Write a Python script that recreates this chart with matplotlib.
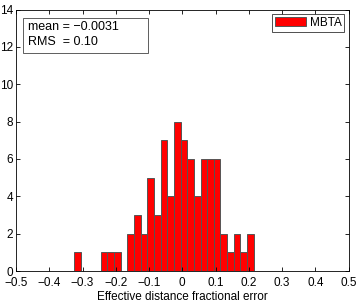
import numpy as np
import matplotlib
matplotlib.use('Agg')
import matplotlib.pyplot as plt
from matplotlib.patches import Rectangle

plt.rcParams['font.family'] = ['Liberation Sans', 'DejaVu Sans']

# histogram counts, bins of width 0.02
bin_start = -0.325
bin_width = 0.02
counts = [1, 0, 0, 0, 1, 1, 1, 0, 2, 3, 2, 5, 3, 7, 4, 8, 7, 6, 4,
          6, 6, 6, 2, 1, 2, 1, 2]
xticks = [-0.5, -0.4, -0.3, -0.2, -0.1, 0, 0.1, 0.2, 0.3, 0.4, 0.5]
yticks = [0, 2, 4, 6, 8, 10, 12, 14]
stats_lines = ['mean = \u22120.0031', 'RMS  = 0.10']

edges = bin_start + bin_width * np.arange(len(counts) + 1)

fig = plt.figure(figsize=(3.6, 3.06), dpi=100)
ax = fig.add_axes([16 / 360, 35 / 306, 332.5 / 360, 261.5 / 306])

ax.bar(edges[:-1], counts, width=bin_width, align='edge',
       color='#ff0000', edgecolor='#555555', linewidth=0.7, label='MBTA')

ax.set_xlim(-0.5, 0.5)
ax.set_ylim(0, 14)
ax.set_xticks(xticks)
ax.set_xticklabels([('%g' % t).replace('-', '\u2212') for t in xticks])
ax.set_yticks(yticks)
ax.tick_params(direction='in', top=True, right=True, labelsize=8.5,
               length=3, width=0.6, pad=2)
ax.tick_params(axis='x', pad=4.5)
for s in ax.spines.values():
    s.set_linewidth(0.6)

ax.set_xlabel('Effective distance fractional error', fontsize=8.5, labelpad=1)

# stats box
ax.add_patch(Rectangle((0.020, 0.832), 0.378, 0.137, transform=ax.transAxes,
                       facecolor='white', edgecolor='#444444', linewidth=0.6,
                       zorder=5))
ax.text(0.036, 0.934, stats_lines[0], transform=ax.transAxes, fontsize=9,
        va='center', ha='left', zorder=6)
ax.text(0.036, 0.877, stats_lines[1], transform=ax.transAxes, fontsize=9,
        va='center', ha='left', zorder=6)

leg = ax.legend(loc='upper right', fontsize=8.5, frameon=True, fancybox=False,
                borderaxespad=0.35, handlelength=2.6, handleheight=0.9,
                borderpad=0.25, handletextpad=0.3)
leg.get_frame().set_edgecolor('black')
leg.get_frame().set_linewidth(0.6)

fig.savefig('out.png', dpi=100)
